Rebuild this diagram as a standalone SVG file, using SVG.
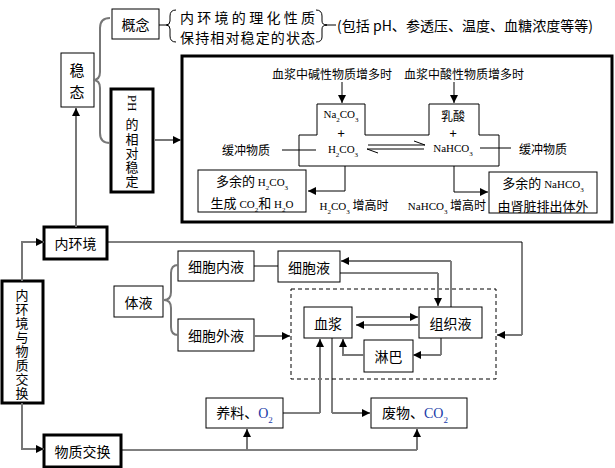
<svg xmlns="http://www.w3.org/2000/svg" width="615" height="468" viewBox="0 0 615 468">
<defs>
<style>
.box{fill:#fff;stroke:#000;stroke-width:1}
.tbox{fill:#fff;stroke:#000;stroke-width:3}
.cn{font-family:"Noto Sans CJK SC","Liberation Sans",sans-serif;font-size:14px;fill:#000}
.sm{font-size:12px}
.vt{font-size:13px;writing-mode:vertical-rl}
.ch{font-family:"Liberation Serif",serif;font-size:11px;fill:#000}
.ln{fill:none;stroke:#000;stroke-width:1}
.gl{fill:none;stroke:#777;stroke-width:2}
.dash{fill:none;stroke:#000;stroke-width:1;stroke-dasharray:4 3}
.blue{fill:#1a3aa8}
</style>
<marker id="ah" viewBox="0 0 10 10" refX="10" refY="5" markerWidth="9" markerHeight="8" markerUnits="userSpaceOnUse" orient="auto">
<path d="M0,0 L10,5 L0,10 z" fill="#000"/>
</marker>
</defs>
<rect width="615" height="468" fill="#fff"/>

<g id="wentai">
<rect class="box" x="61" y="53" width="33" height="54"/>
<text class="cn vt" x="77" y="62.5" style="font-size:15px;letter-spacing:7px">稳态</text>
</g>

<g id="gainian">
<rect class="box" x="112" y="9" width="47" height="30"/>
<text class="cn" x="135.5" y="24" text-anchor="middle" dominant-baseline="central">概念</text>
</g>

<g id="definition">
<text class="cn" x="180" y="17" dominant-baseline="central" textLength="135" lengthAdjust="spacing">内环境的理化性质</text>
<text class="cn" x="180" y="37" dominant-baseline="central" textLength="135" lengthAdjust="spacing">保持相对稳定的状态</text>
<text class="cn" x="337" y="25" dominant-baseline="central" textLength="256" lengthAdjust="spacingAndGlyphs">(包括 pH、参透压、温度、血糖浓度等等)</text>
</g>

<g id="ph">
<rect class="tbox" x="111" y="89" width="42" height="103"/>
<text transform="translate(132,103) rotate(90)" text-anchor="middle" dominant-baseline="central" font-family="Liberation Serif,serif" font-size="13">PH</text>
<text class="cn vt" x="132" y="118" style="letter-spacing:1.25px">的相对稳定</text>
</g>

<g id="buffer">
<rect class="tbox" x="182" y="56" width="430" height="166"/>
<text class="cn sm" x="332" y="73" text-anchor="middle" dominant-baseline="central">血浆中碱性物质增多时</text>
<text class="cn sm" x="464" y="73" text-anchor="middle" dominant-baseline="central">血浆中酸性物质增多时</text>
<polygon class="ln" points="299,135 317,135 317,104 365,104 365,135 429,135 429,104 479,104 479,135 499,135 499,166 299,166"/>
<text class="ch" x="341" y="118" text-anchor="middle">Na<tspan font-size="7" baseline-shift="sub">2</tspan>CO<tspan font-size="7" baseline-shift="sub">3</tspan></text>
<text class="cn" x="341" y="132" text-anchor="middle" dominant-baseline="central" style="font-size:13px">+</text>
<text class="ch" x="343" y="153" text-anchor="middle">H<tspan font-size="7" baseline-shift="sub">2</tspan>CO<tspan font-size="7" baseline-shift="sub">3</tspan></text>
<text class="cn sm" x="453" y="115" text-anchor="middle" dominant-baseline="central">乳酸</text>
<text class="cn" x="453" y="132" text-anchor="middle" dominant-baseline="central" style="font-size:13px">+</text>
<text class="ch" x="453" y="152" text-anchor="middle">NaHCO<tspan font-size="7" baseline-shift="sub">3</tspan></text>
<text class="cn sm" x="246" y="149" text-anchor="middle" dominant-baseline="central">缓冲物质</text>
<text class="cn sm" x="543" y="148" text-anchor="middle" dominant-baseline="central">缓冲物质</text>
<text x="354" y="210" text-anchor="middle"><tspan class="ch">H<tspan font-size="7" baseline-shift="sub">2</tspan>CO<tspan font-size="7" baseline-shift="sub">3</tspan></tspan><tspan class="cn sm"> 增高时</tspan></text>
<text x="447" y="210" text-anchor="middle"><tspan class="ch">NaHCO<tspan font-size="7" baseline-shift="sub">3</tspan></tspan><tspan class="cn sm"> 增高时</tspan></text>
</g>

<g id="h2co3box">
<rect class="box" x="198" y="170" width="108" height="42"/>
<text x="252" y="186" text-anchor="middle"><tspan class="cn" style="font-size:13px">多余的 </tspan><tspan class="ch">H<tspan font-size="7" baseline-shift="sub">2</tspan>CO<tspan font-size="7" baseline-shift="sub">3</tspan></tspan></text>
<text x="252" y="208" text-anchor="middle"><tspan class="cn" style="font-size:13px">生成 </tspan><tspan class="ch">CO<tspan font-size="7" baseline-shift="sub">2</tspan></tspan><tspan class="cn" style="font-size:13px">和 </tspan><tspan class="ch">H<tspan font-size="7" baseline-shift="sub">2</tspan>O</tspan></text>
</g>

<g id="nahco3box">
<rect class="box" x="489" y="172" width="108" height="41"/>
<text x="543" y="188" text-anchor="middle"><tspan class="cn" style="font-size:13px">多余的 </tspan><tspan class="ch">NaHCO<tspan font-size="7" baseline-shift="sub">3</tspan></tspan></text>
<text class="cn" x="543" y="205" text-anchor="middle" dominant-baseline="central" style="font-size:13px">由肾脏排出体外</text>
</g>

<g id="neihuanjing">
<rect class="tbox" x="44" y="227" width="63" height="32"/>
<text class="cn" x="75.5" y="243" text-anchor="middle" dominant-baseline="central">内环境</text>
</g>

<g id="root">
<rect class="tbox" x="2" y="281" width="41" height="122"/>
<text class="cn vt" x="22" y="288.5" style="letter-spacing:1px">内环境与物质交换</text>
</g>

<g id="wuzhijiaohuan">
<rect class="tbox" x="44" y="435" width="77" height="32"/>
<text class="cn" x="82.5" y="451" text-anchor="middle" dominant-baseline="central">物质交换</text>
</g>

<g id="tiye">
<rect class="box" x="114" y="286" width="49" height="31"/>
<text class="cn" x="138.5" y="301.5" text-anchor="middle" dominant-baseline="central">体液</text>
</g>

<g id="xibaoneiye">
<rect class="box" x="178" y="251" width="76" height="30"/>
<text class="cn" x="216" y="266" text-anchor="middle" dominant-baseline="central">细胞内液</text>
</g>

<g id="xibaoye">
<rect class="box" x="278" y="251" width="62" height="31"/>
<text class="cn" x="309" y="266.5" text-anchor="middle" dominant-baseline="central">细胞液</text>
</g>

<g id="xibaowaiye">
<rect class="box" x="178" y="319" width="76" height="32"/>
<text class="cn" x="216" y="335" text-anchor="middle" dominant-baseline="central">细胞外液</text>
</g>

<g id="dashedbox">
<rect class="dash" x="291" y="289" width="205" height="90"/>
</g>

<g id="xuejiang">
<rect class="box" x="304" y="307" width="48" height="31"/>
<text class="cn" x="328" y="322.5" text-anchor="middle" dominant-baseline="central">血浆</text>
</g>

<g id="zuzhiye">
<rect class="box" x="419" y="307" width="63" height="31"/>
<text class="cn" x="450.5" y="322.5" text-anchor="middle" dominant-baseline="central">组织液</text>
</g>

<g id="linba">
<rect class="box" x="364" y="340" width="49" height="32"/>
<text class="cn" x="388.5" y="356" text-anchor="middle" dominant-baseline="central">淋巴</text>
</g>

<g id="yangliao">
<rect class="box" x="206" y="398" width="77" height="30"/>
<text x="244.5" y="418" text-anchor="middle"><tspan class="cn">养料、</tspan><tspan class="ch blue" style="font-size:14px">O<tspan font-size="9" baseline-shift="sub">2</tspan></tspan></text>
</g>

<g id="feiwu">
<rect class="box" x="371" y="398" width="96" height="30"/>
<text x="415" y="418" text-anchor="middle"><tspan class="cn">废物、</tspan><tspan class="ch blue" style="font-size:14px">CO<tspan font-size="9" baseline-shift="sub">2</tspan></tspan></text>
</g>

<g id="connectors">
<path class="gl" d="M76,227 V108" marker-end="url(#ah)"/>
<path class="gl" d="M155,140 H181" marker-end="url(#ah)"/>
<path class="gl" d="M22,281 V242 H44" marker-end="url(#ah)"/>
<path class="gl" d="M22,403 V449 H44" marker-end="url(#ah)"/>
<path class="ln" d="M108,242 H522 V335"/>
<path class="gl" d="M522,335 H497" marker-end="url(#ah)"/>
<path class="ln" d="M122,450 H417"/>
<path class="gl" d="M417,450 V429" marker-end="url(#ah)"/>
<path class="gl" d="M247,450 V429" marker-end="url(#ah)"/>
<path class="ln" d="M283,413 H320"/>
<path class="gl" d="M320,413 V339" marker-end="url(#ah)"/>
<path class="ln" d="M332,338 V413"/>
<path class="gl" d="M332,413 H370" marker-end="url(#ah)"/>
<path class="ln" d="M254,266 H278"/>
<path class="gl" d="M254,336 H290" marker-end="url(#ah)"/>
<path class="gl" d="M356,317 H418" marker-end="url(#ah)"/>
<path class="gl" d="M418,325 H356" marker-end="url(#ah)"/>
<path class="ln" d="M441,338 V355"/>
<path class="gl" d="M441,355 H413" marker-end="url(#ah)"/>
<path class="gl" d="M364,355 H343 V339" marker-end="url(#ah)"/>
<path class="ln" d="M340,273 H438"/>
<path class="gl" d="M438,273 V306" marker-end="url(#ah)"/>
<path class="ln" d="M451,307 V261"/>
<path class="gl" d="M451,261 H341" marker-end="url(#ah)"/>
<path class="gl" d="M110,18 Q100,18 100,28 V72 Q100,80 93,80 Q100,80 100,88 V133 Q100,143 110,143" stroke-width="1.5"/>
<path class="ln" d="M159,25 H166"/>
<path class="ln" d="M176,10 Q170,10 170,16 V21 Q170,25 166,25 Q170,25 170,29 V36 Q170,42 176,42"/>
<path class="ln" d="M316,10 Q322,10 322,16 V21 Q322,25 327,25 Q322,25 322,29 V37 Q322,42 316,42"/>
<path class="ln" d="M325,25 H336"/>
<path class="gl" d="M178,265 Q171,265 171,273 V292 Q171,300 164,300 Q171,300 171,308 V327 Q171,335 178,335" stroke-width="1.5"/>
<path class="ln" d="M342,82 V103" marker-end="url(#ah)"/>
<path class="ln" d="M454,82 V103" marker-end="url(#ah)"/>
<path class="ln" d="M282,150 H316"/>
<path class="ln" d="M480,148 H511"/>
<path class="ln" d="M368,145 H425 L414,141"/>
<path class="ln" d="M424,149 H367 L378,153"/>
<path class="ln" d="M345,166 V191 H308" marker-end="url(#ah)"/>
<path class="ln" d="M454,166 V192 H488" marker-end="url(#ah)"/>
</g>
</svg>
